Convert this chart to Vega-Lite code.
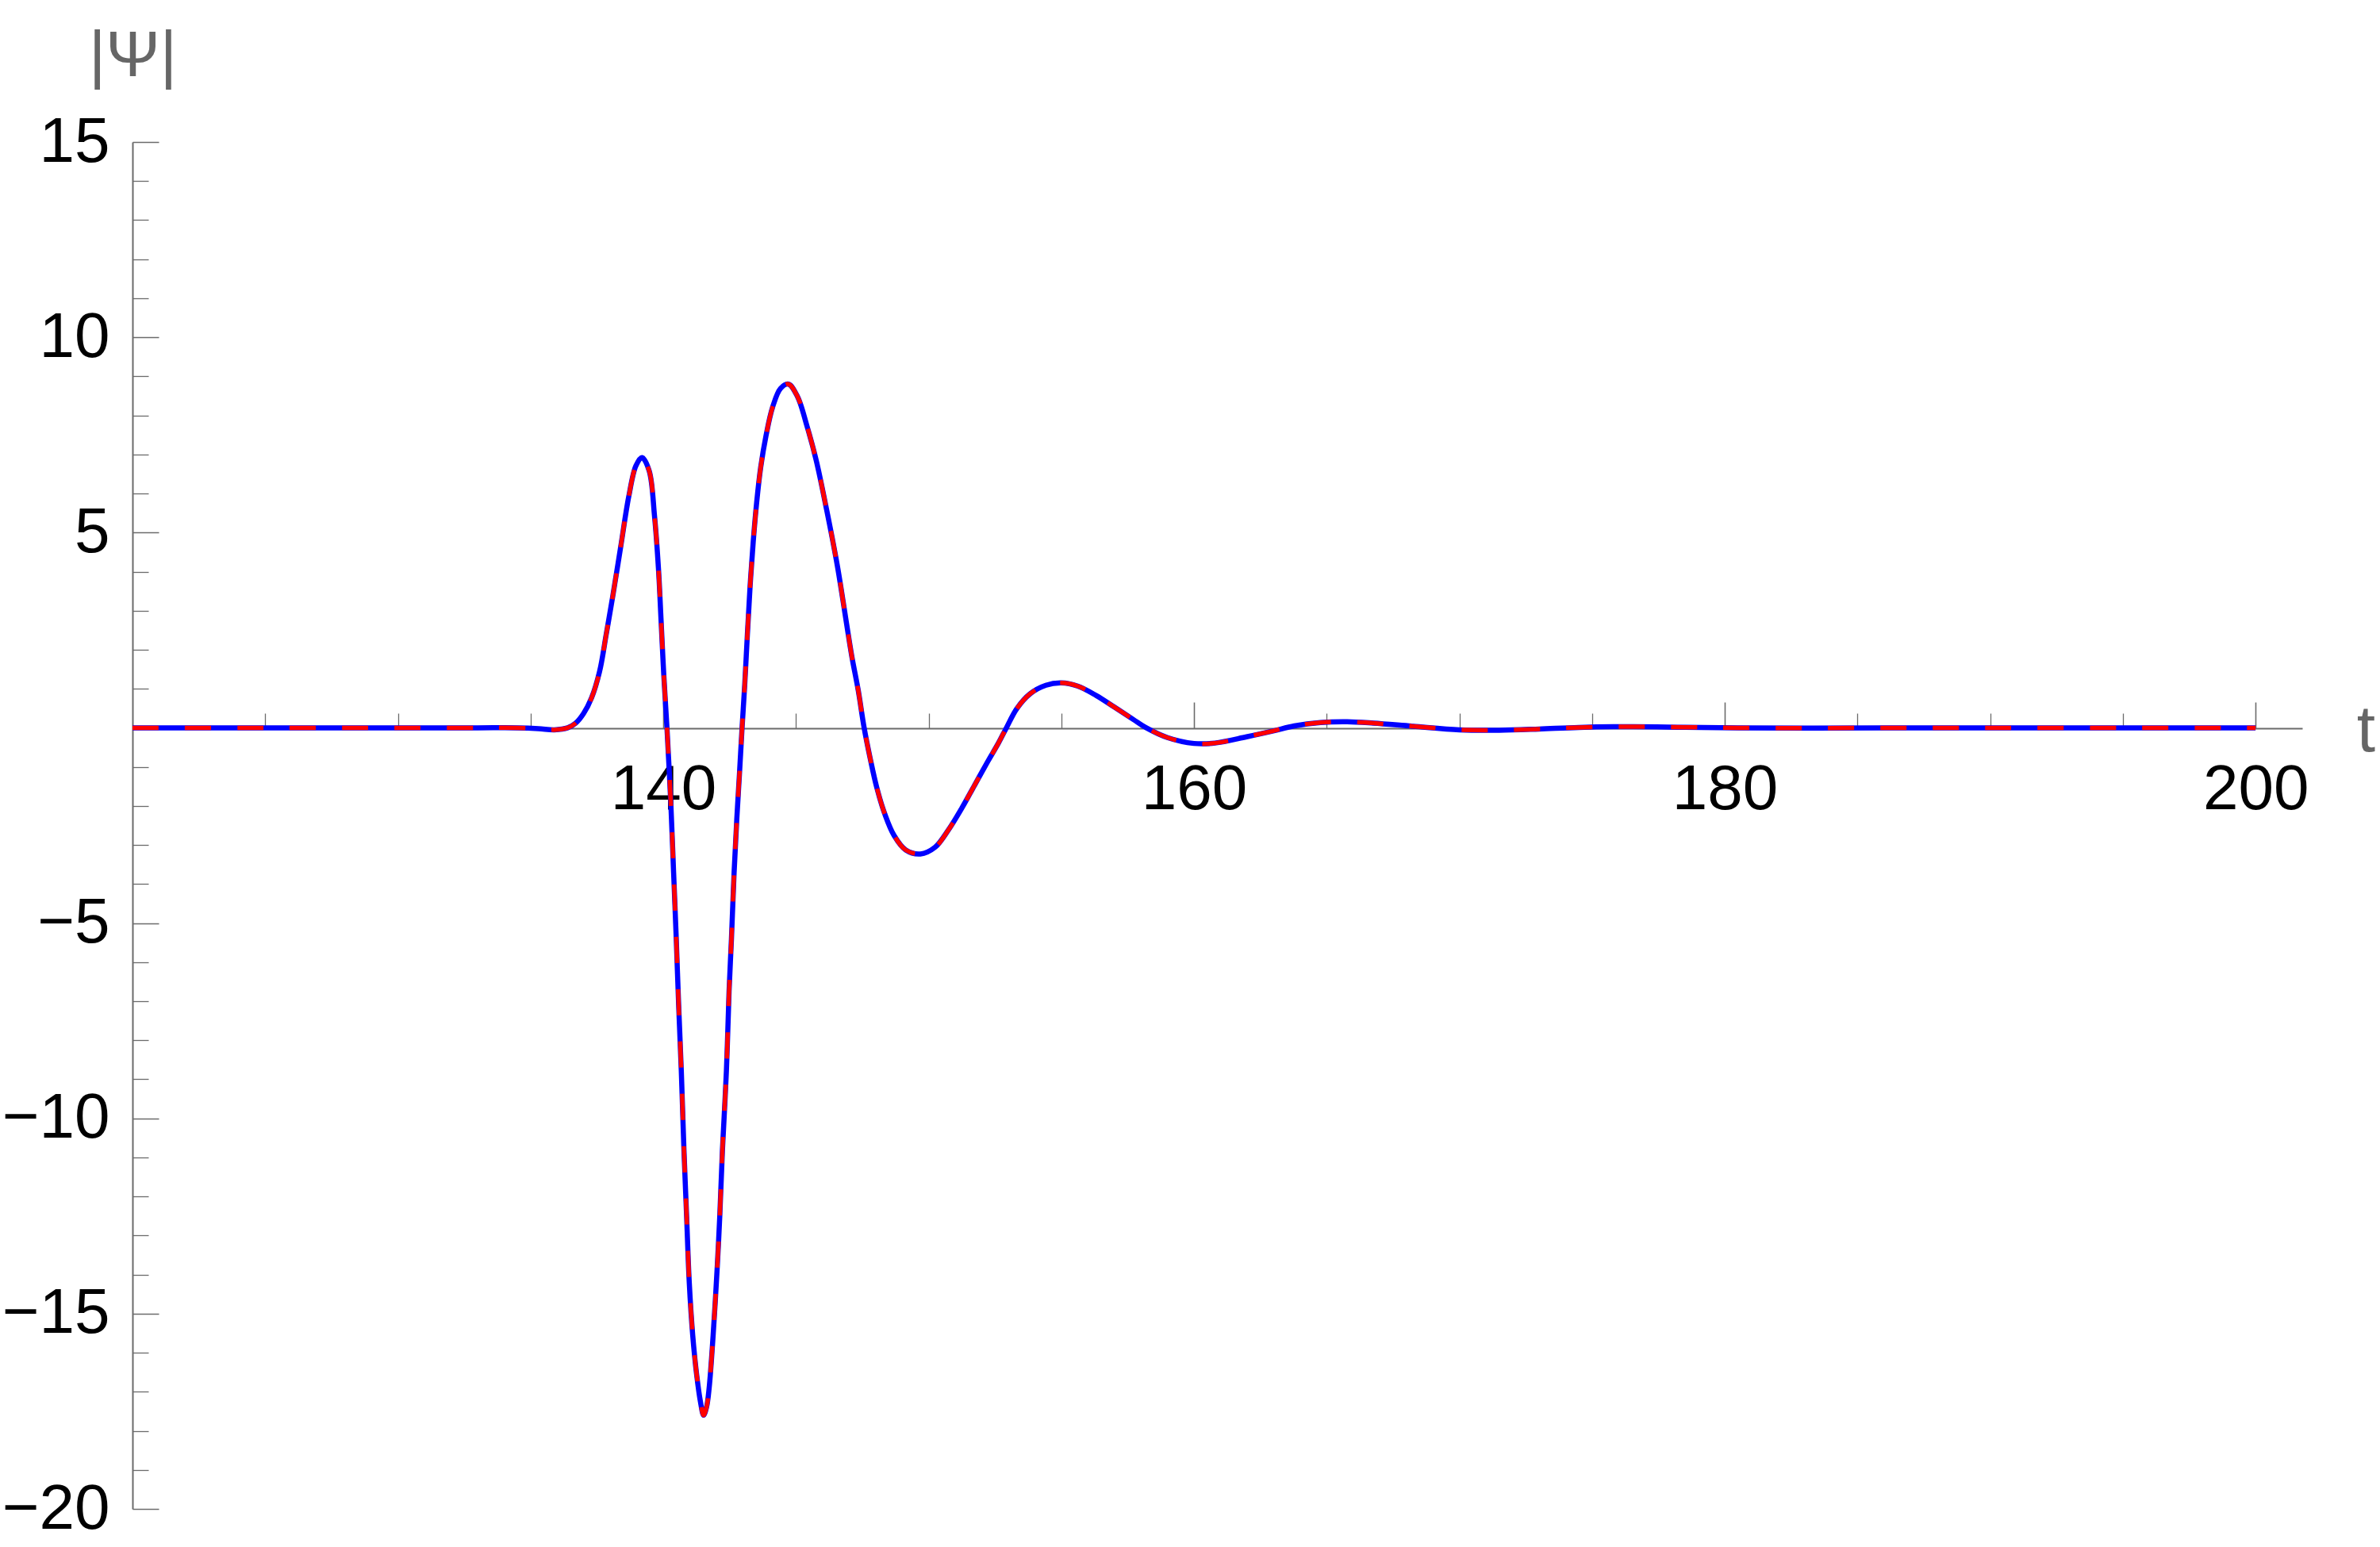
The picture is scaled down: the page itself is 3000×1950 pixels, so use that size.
{
  "$schema": "https://vega.github.io/schema/vega-lite/v6.json",
  "autosize": {"type": "none"},
  "width": 2735,
  "height": 1723,
  "padding": {"left": 167, "top": 179, "right": 98, "bottom": 48},
  "background": "white",
  "config": {
    "view": {"stroke": null},
    "axis": {
      "grid": false,
      "domainColor": "#6b6b6b",
      "tickColor": "#6b6b6b",
      "tickWidth": 1.6,
      "domainWidth": 2,
      "labelFont": "Liberation Sans",
      "labelFontSize": 80,
      "labelColor": "#000000",
      "labelOverlap": false,
      "labelFlush": false,
      "titleFont": "Liberation Sans",
      "titleFontWeight": "normal",
      "titleColor": "#666666",
      "zindex": 0
    }
  },
  "data": {
    "values": [
      {"t": 120, "y": 0}, {"t": 125, "y": 0}, {"t": 130, "y": 0}, {"t": 133, "y": 0},
      {"t": 134.5, "y": 0}, {"t": 135.3, "y": -0.02}, {"t": 135.9, "y": -0.05}, {"t": 136.4, "y": 0},
      {"t": 136.7, "y": 0.12}, {"t": 137.0, "y": 0.37}, {"t": 137.3, "y": 0.77}, {"t": 137.6, "y": 1.44},
      {"t": 137.85, "y": 2.39}, {"t": 138.1, "y": 3.38}, {"t": 138.4, "y": 4.65}, {"t": 138.7, "y": 5.92},
      {"t": 138.97, "y": 6.71}, {"t": 139.2, "y": 6.92}, {"t": 139.47, "y": 6.58}, {"t": 139.67, "y": 5.43},
      {"t": 139.82, "y": 4.07}, {"t": 139.92, "y": 2.72}, {"t": 140.02, "y": 1.36}, {"t": 140.14, "y": 0},
      {"t": 140.29, "y": -2.01}, {"t": 140.39, "y": -3.7}, {"t": 140.49, "y": -5.4}, {"t": 140.58, "y": -7.09},
      {"t": 140.68, "y": -8.78}, {"t": 140.78, "y": -10.81}, {"t": 140.88, "y": -12.5}, {"t": 140.98, "y": -14.2},
      {"t": 141.11, "y": -15.55}, {"t": 141.26, "y": -16.57}, {"t": 141.4, "y": -17.25}, {"t": 141.52, "y": -17.6},
      {"t": 141.63, "y": -17.4}, {"t": 141.73, "y": -16.9}, {"t": 141.88, "y": -15.55}, {"t": 142.03, "y": -13.86},
      {"t": 142.13, "y": -12.5}, {"t": 142.23, "y": -10.81}, {"t": 142.38, "y": -8.78}, {"t": 142.48, "y": -6.75},
      {"t": 142.57, "y": -5.4}, {"t": 142.67, "y": -3.7}, {"t": 142.77, "y": -2.35}, {"t": 142.87, "y": -1.2},
      {"t": 142.97, "y": 0}, {"t": 143.07, "y": 1.1}, {"t": 143.17, "y": 2.39}, {"t": 143.27, "y": 3.6},
      {"t": 143.39, "y": 4.76}, {"t": 143.52, "y": 5.77}, {"t": 143.67, "y": 6.66}, {"t": 143.87, "y": 7.47},
      {"t": 144.12, "y": 8.21}, {"t": 144.42, "y": 8.69}, {"t": 144.72, "y": 8.8}, {"t": 145.06, "y": 8.48},
      {"t": 145.41, "y": 7.74}, {"t": 145.76, "y": 6.86}, {"t": 146.16, "y": 5.57}, {"t": 146.56, "y": 4.15},
      {"t": 146.9, "y": 2.7}, {"t": 147.1, "y": 1.85}, {"t": 147.35, "y": 0.95}, {"t": 147.57, "y": 0},
      {"t": 147.8, "y": -0.79}, {"t": 148.05, "y": -1.54}, {"t": 148.35, "y": -2.21}, {"t": 148.7, "y": -2.76},
      {"t": 149.14, "y": -3.13}, {"t": 149.69, "y": -3.23}, {"t": 150.24, "y": -3.06}, {"t": 150.74, "y": -2.62},
      {"t": 151.23, "y": -2.08}, {"t": 151.73, "y": -1.47}, {"t": 152.23, "y": -0.86}, {"t": 152.63, "y": -0.39},
      {"t": 152.93, "y": 0}, {"t": 153.32, "y": 0.49}, {"t": 153.82, "y": 0.87}, {"t": 154.42, "y": 1.09},
      {"t": 155.0, "y": 1.15}, {"t": 155.61, "y": 1.07}, {"t": 156.31, "y": 0.83}, {"t": 157.0, "y": 0.53},
      {"t": 157.7, "y": 0.22}, {"t": 158.2, "y": 0}, {"t": 159.0, "y": -0.25}, {"t": 160.0, "y": -0.4},
      {"t": 160.79, "y": -0.39}, {"t": 161.98, "y": -0.23}, {"t": 162.98, "y": -0.08}, {"t": 163.78, "y": 0.05},
      {"t": 164.77, "y": 0.135}, {"t": 165.77, "y": 0.155}, {"t": 166.76, "y": 0.12}, {"t": 168.25, "y": 0.04},
      {"t": 170.0, "y": -0.05}, {"t": 171.5, "y": -0.06}, {"t": 173.0, "y": -0.03}, {"t": 174.5, "y": 0.01},
      {"t": 176.5, "y": 0.03}, {"t": 178.5, "y": 0.015}, {"t": 180.5, "y": 0}, {"t": 183, "y": -0.005},
      {"t": 186, "y": 0}, {"t": 190, "y": 0}, {"t": 195, "y": 0}, {"t": 200, "y": 0}
    ]
  },
  "resolve": {"axis": {"x": "independent", "y": "independent"}},
  "layer": [
    {
      "mark": {"type": "line", "color": "#0000ff", "strokeWidth": 6.5, "interpolate": "catmull-rom"},
      "encoding": {
        "x": {
          "field": "t", "type": "quantitative",
          "scale": {"domain": [120, 201.76], "nice": false, "zero": false},
          "axis": {
            "orient": "bottom", "offset": -984, "values": [140, 160, 180, 200],
            "ticks": false, "tickSize": 0, "labelPadding": 38, "domain": true,
            "title": "t", "titleX": 2815, "titleY": 3, "titleAlign": "center",
            "titleBaseline": "middle", "titleFontSize": 84, "titleAngle": 0
          }
        },
        "y": {
          "field": "y", "type": "quantitative",
          "scale": {"domain": [-20, 15], "nice": false, "zero": false},
          "axis": {
            "orient": "left", "values": [-20, -15, -10, -5, 5, 10, 15],
            "ticks": false, "tickSize": 0, "labelPadding": 29, "domain": true,
            "labelExpr": "replace(datum.label, '-', '\u2212')",
            "title": "|Ψ|", "titleAngle": 0, "titleX": 0, "titleY": -109,
            "titleAlign": "center", "titleBaseline": "middle", "titleFontSize": 82
          }
        }
      }
    },
    {
      "mark": {"type": "line", "color": "#ff0000", "strokeWidth": 5.5, "strokeDash": [33, 33], "interpolate": "catmull-rom"},
      "encoding": {
        "x": {
          "field": "t", "type": "quantitative",
          "scale": {"domain": [120, 201.76], "nice": false, "zero": false},
          "axis": {
            "orient": "top", "offset": -739, "values": [140, 160, 180, 200],
            "labels": false, "domain": false, "tickSize": 33, "title": null
          }
        },
        "y": {
          "field": "y", "type": "quantitative",
          "scale": {"domain": [-20, 15], "nice": false, "zero": false},
          "axis": {
            "orient": "right", "offset": -2735, "values": [-20, -15, -10, -5, 5, 10, 15],
            "labels": false, "domain": false, "tickSize": 33, "title": null
          }
        }
      }
    },
    {
      "mark": {"type": "line", "strokeOpacity": 0, "strokeWidth": 1},
      "encoding": {
        "x": {
          "field": "t", "type": "quantitative",
          "scale": {"domain": [120, 201.76], "nice": false, "zero": false},
          "axis": {
            "orient": "top", "offset": -739,
            "values": [125, 130, 135, 145, 150, 155, 165, 170, 175, 185, 190, 195],
            "labels": false, "domain": false, "tickSize": 19, "tickWidth": 1.3, "title": null
          }
        },
        "y": {
          "field": "y", "type": "quantitative",
          "scale": {"domain": [-20, 15], "nice": false, "zero": false},
          "axis": {
            "orient": "right", "offset": -2735,
            "values": [-19, -18, -17, -16, -14, -13, -12, -11, -9, -8, -7, -6, -4, -3, -2, -1, 1, 2, 3, 4, 6, 7, 8, 9, 11, 12, 13, 14],
            "labels": false, "domain": false, "tickSize": 20, "tickWidth": 1.3, "title": null
          }
        }
      }
    }
  ]
}
